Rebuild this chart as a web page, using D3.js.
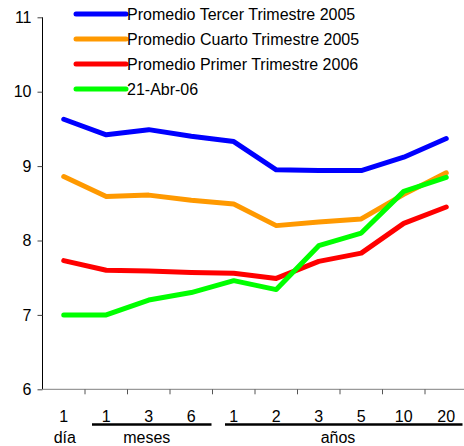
<!DOCTYPE html>
<html><head><meta charset="utf-8">
<script src="https://cdn.jsdelivr.net/npm/d3@7"></script>
<style>body{margin:0;background:#fff}svg{display:block}text{font-family:"Liberation Sans",Arial,sans-serif;font-size:16px;fill:#000}</style>
</head><body>
<svg id="c" width="464" height="446"></svg>
<script>
const categories = ["1d","1m","3m","6m","1y","2y","3y","5y","10y","20y"];
const tickLabels = ["1","1","3","6","1","2","3","5","10","20"];
const groupNames = ["día","meses","años"];
const groupSpans = [[0,0],[1,3],[4,9]];
const seriesNames = ["Promedio Tercer Trimestre 2005","Promedio Cuarto Trimestre 2005","Promedio Primer Trimestre 2006","21-Abr-06"];
const seriesColors = ["#0000ff","#ff9900","#ff0000","#00ff00"];
const tercer2005 = [9.63,9.42,9.49,9.40,9.33,8.95,8.94,8.94,9.12,9.37];
const cuarto2005 = [8.86,8.59,8.61,8.54,8.49,8.20,8.25,8.29,8.62,8.91];
const primer2006 = [7.73,7.60,7.59,7.57,7.56,7.49,7.72,7.83,8.23,8.45];
const abr2106   = [7.00,7.00,7.20,7.30,7.46,7.34,7.93,8.10,8.66,8.85];
const yTicks = [6,7,8,9,10,11];
const series = [tercer2005,cuarto2005,primer2006,abr2106];

const svg = d3.select("#c");
const x = d3.scaleBand().domain(categories).range([42.5,467.5]);
const y = d3.scaleLinear().domain([6,11]).range([389.3,17.3]);

// y axis
const ya = svg.append("g").attr("transform","translate(42.5,0)")
  .call(d3.axisLeft(y).tickValues(yTicks).tickSize(5).tickPadding(6).tickFormat(d3.format("d")));
ya.select(".domain").attr("stroke","#000").attr("d",`M0,${y(11)}V${y(6)}`);
ya.selectAll(".tick line").attr("stroke","#444");
ya.selectAll(".tick text").attr("font-size",16).attr("font-family","Liberation Sans, Arial, sans-serif").attr("fill","#000");

// x axis
const xa = svg.append("g").attr("transform",`translate(0,${y(6)})`)
  .call(d3.axisBottom(x).tickSize(0).tickPadding(0).tickFormat(""));
xa.select(".domain").attr("stroke","#808080").attr("d",`M42.5,0H${x.range()[1]}`);
xa.selectAll(".tick").remove();
const bounds = categories.slice(1).map(c=>x(c));
xa.selectAll("line.b").data(bounds).join("line").attr("class","b")
  .attr("x1",d=>d).attr("x2",d=>d).attr("y1",0).attr("y2",5).attr("stroke","#555");
// tick labels
svg.append("g").selectAll("text").data(categories).join("text")
  .attr("x",d=>x(d)+x.bandwidth()/2).attr("y",421.5).attr("text-anchor","middle")
  .text((d,i)=>tickLabels[i]);
// group underlines
const ul = [[1,3,7,-1],[4,9,12.5,-5]];
svg.append("g").selectAll("line").data(ul).join("line")
  .attr("x1",d=>x(categories[d[0]])+d[2]).attr("x2",d=>x(categories[d[1]])+x.bandwidth()+d[3])
  .attr("y1",424.5).attr("y2",424.5).attr("stroke","#000").attr("stroke-width",2.5);
// group labels
svg.append("g").selectAll("text").data(groupNames).join("text")
  .attr("x",(d,i)=>(x(categories[groupSpans[i][0]])+x(categories[groupSpans[i][1]])+x.bandwidth())/2 + (i===0?1:-2))
  .attr("y",443).attr("text-anchor","middle").text(d=>d);

// lines
const line = d3.line().x((d,i)=>x(categories[i])+x.bandwidth()/2).y(d=>y(d));
svg.append("g").selectAll("path").data(series).join("path")
  .attr("d",line).attr("fill","none").attr("stroke",(d,i)=>seriesColors[i])
  .attr("stroke-width",5).attr("stroke-linejoin","round").attr("stroke-linecap","round");

// legend
const lg = svg.append("g").selectAll("g").data(seriesNames).join("g")
  .attr("transform",(d,i)=>`translate(0,${14+i*25})`);
lg.append("line").attr("x1",76).attr("x2",126).attr("y1",0).attr("y2",0)
  .attr("stroke",(d,i)=>seriesColors[i]).attr("stroke-width",5).attr("stroke-linecap","round");
lg.append("text").attr("x",127).attr("y",6).text(d=>d);
</script>
</body></html>
